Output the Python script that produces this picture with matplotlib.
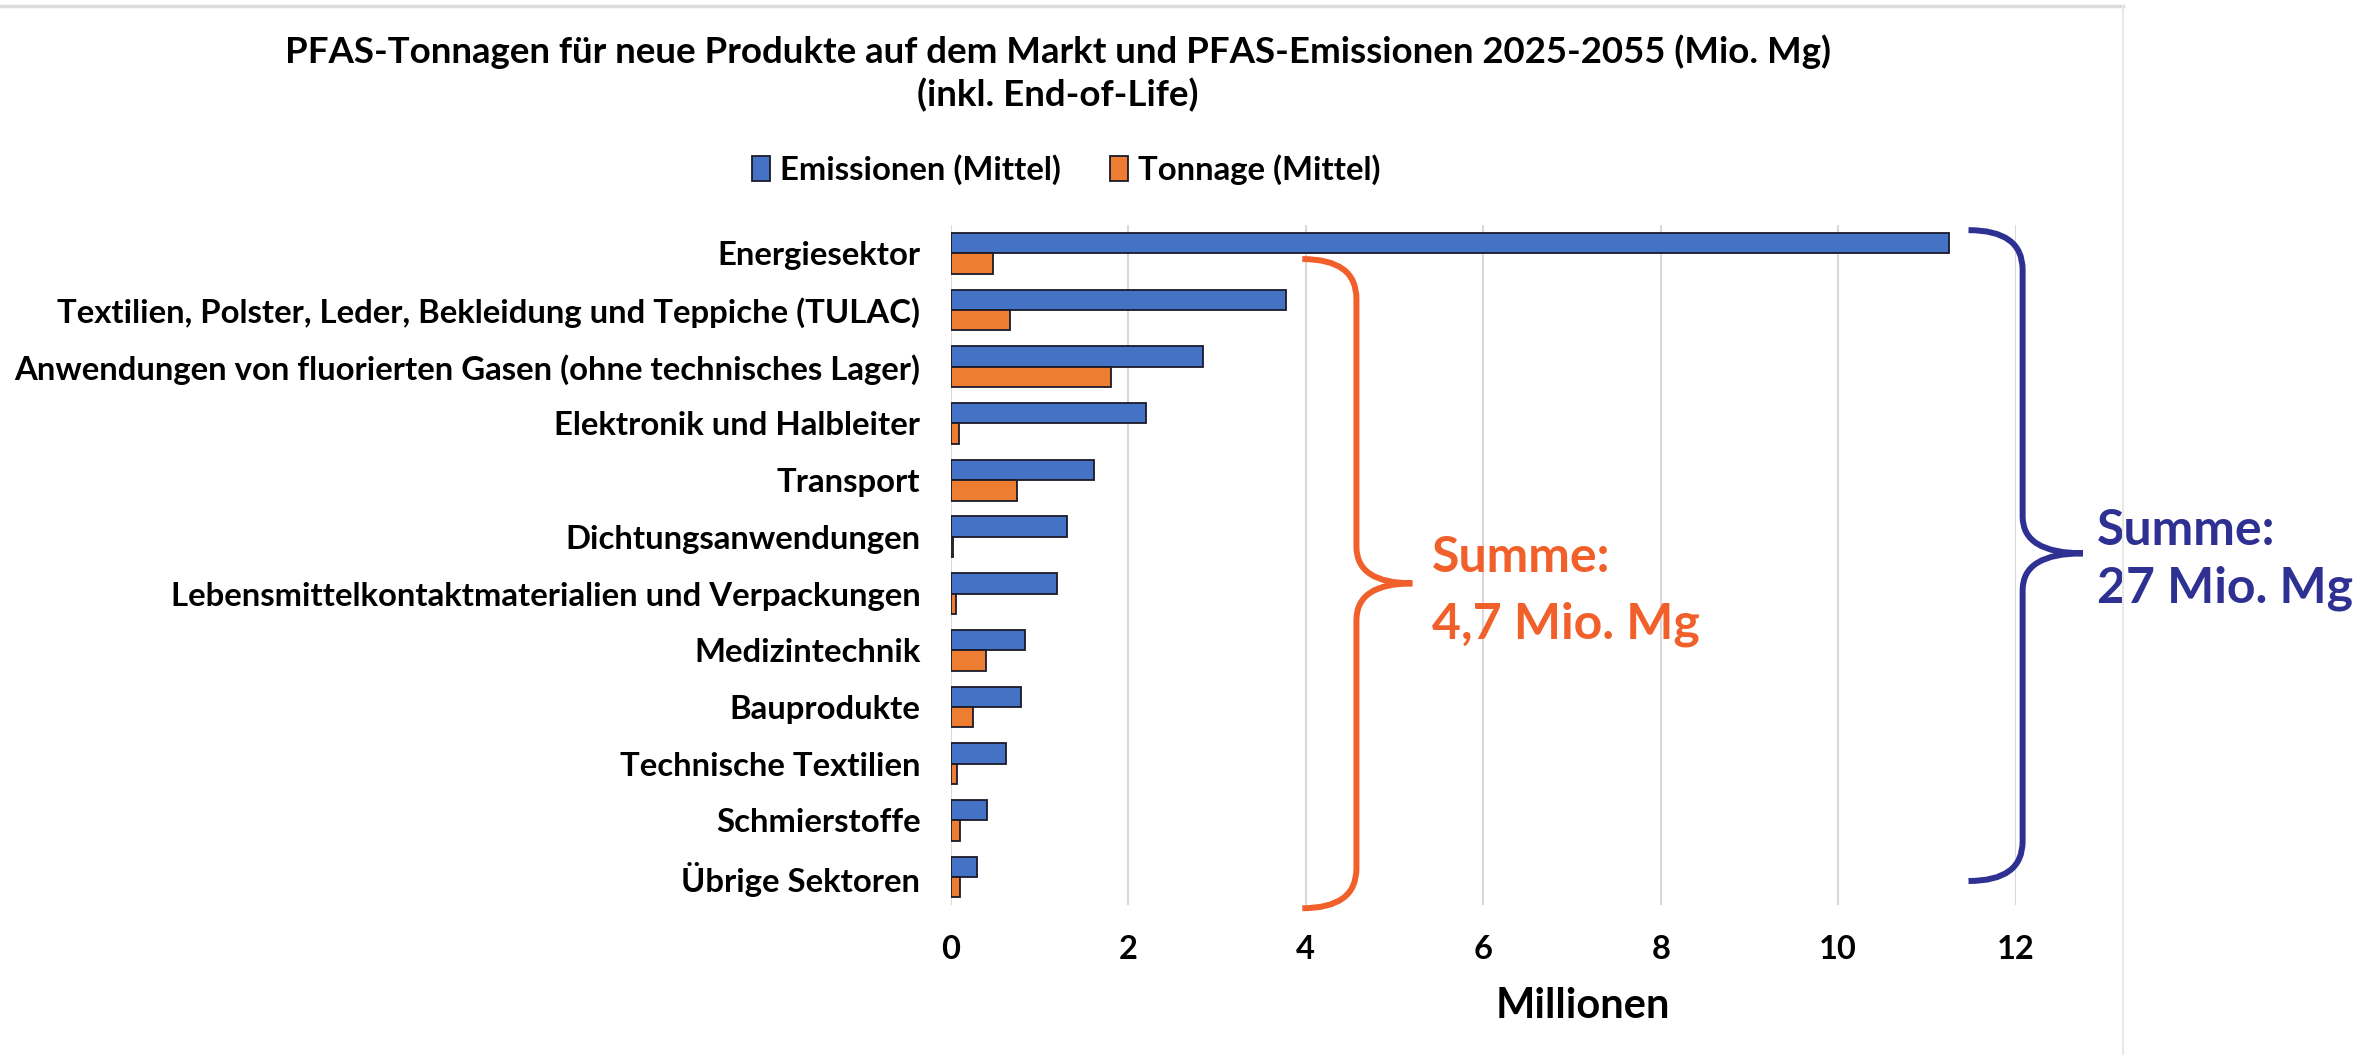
import numpy as np
import matplotlib
matplotlib.use('Agg')
import matplotlib.pyplot as plt
from matplotlib.path import Path
from matplotlib.patches import PathPatch
from matplotlib.lines import Line2D

plt.rcParams['font.family'] = ['Lato', 'DejaVu Sans']
plt.rcParams['font.weight'] = 'bold'

# data (Mio. Mg)
sektoren = ['Energiesektor',
            'Textilien, Polster, Leder, Bekleidung und Teppiche (TULAC)',
            'Anwendungen von fluorierten Gasen (ohne technisches Lager)',
            'Elektronik und Halbleiter',
            'Transport',
            'Dichtungsanwendungen',
            'Lebensmittelkontaktmaterialien und Verpackungen',
            'Medizintechnik',
            'Bauprodukte',
            'Technische Textilien',
            'Schmierstoffe',
            'Übrige Sektoren']
emissionen = [11.25, 3.78, 2.84, 2.20, 1.61, 1.31, 1.20, 0.83, 0.79, 0.62, 0.40, 0.29]
tonnage = [0.47, 0.66, 1.80, 0.09, 0.74, 0.02, 0.06, 0.39, 0.25, 0.07, 0.10, 0.10]
x_ticks = [0, 2, 4, 6, 8, 10, 12]

BLUE = '#4472c4'
ORANGE = '#ed7d31'
EDGE = '#1a1a2a'
C_ORANGE = '#f1602a'
C_BLUE = '#2e3192'

fig = plt.figure(figsize=(23.74, 10.55), dpi=100)
ax = fig.add_axes([0.4006, 0.1418, 0.8490 - 0.4006, 0.7867 - 0.1418])

y = np.arange(len(sektoren))
h = 0.36
ax.barh(y - h / 2, emissionen, height=h, color=BLUE, edgecolor=EDGE, linewidth=1.3,
        label='Emissionen (Mittel)', zorder=3)
ax.barh(y + h / 2, tonnage, height=h, color=ORANGE, edgecolor=EDGE, linewidth=1.3,
        label='Tonnage (Mittel)', zorder=3)

ax.set_ylim(len(sektoren) - 0.5, -0.5)
ax.set_xlim(0, 12)
ax.set_yticks(y)
ax.set_yticklabels(sektoren, fontsize=23.7, fontweight='bold')
ax.set_xticks(x_ticks)
ax.set_xticklabels([str(t) for t in x_ticks], fontsize=23.5, fontweight='bold')
ax.tick_params(axis='y', length=0, pad=22)
ax.tick_params(axis='x', length=0, pad=21)
ax.set_xlabel('Millionen', fontsize=30, fontweight='bold')
ax.xaxis.set_label_coords(0.594, -0.12)
ax.grid(axis='x', color='#d9d9d9', linewidth=1.5, zorder=0)
for s in ax.spines.values():
    s.set_visible(False)

fig.text(0.4457, 0.951, 'PFAS-Tonnagen für neue Produkte auf dem Markt und PFAS-Emissionen 2025-2055 (Mio. Mg)',
         ha='center', va='center', fontsize=26.4, fontweight='bold')
fig.text(0.4457, 0.9096, '(inkl. End-of-Life)', ha='center', va='center', fontsize=26.4, fontweight='bold')

fig.legend(loc='center', bbox_to_anchor=(0.449, 0.839), ncol=2, frameon=False,
           handlelength=0.55, handleheight=0.8, handletextpad=0.3,
           columnspacing=1.5, prop={'weight': 'bold', 'size': 23.7})


def brace(x_tip, x_spine, x_point, y_top, y_mid, y_bot, r_end, r_mid, color):
    verts = [(x_tip, y_top), (x_spine, y_top), (x_spine, y_top + r_end),
             (x_spine, y_mid - r_mid),
             (x_spine, y_mid), (x_point, y_mid),
             (x_spine, y_mid), (x_spine, y_mid + r_mid),
             (x_spine, y_bot - r_end),
             (x_spine, y_bot), (x_tip, y_bot)]
    codes = [Path.MOVETO, Path.CURVE3, Path.CURVE3, Path.LINETO,
             Path.CURVE3, Path.CURVE3, Path.CURVE3, Path.CURVE3,
             Path.LINETO, Path.CURVE3, Path.CURVE3]
    ax.add_patch(PathPatch(Path(verts, codes), facecolor='none', edgecolor=color,
                           linewidth=4.3, capstyle='butt', clip_on=False, zorder=5))


# Klammer: alle Sektoren ausser Energie (Tonnage) und alle Sektoren (Emissionen)
brace(3.96, 4.57, 5.2, 0.1, 5.82, 11.55, 0.7, 0.65, C_ORANGE)
brace(11.47, 12.08, 12.76, -0.41, 5.29, 11.07, 0.7, 0.65, C_BLUE)

ax.text(5.42, 5.36, 'Summe:', color=C_ORANGE, fontsize=36, fontweight='bold',
        ha='left', va='center', clip_on=False)
ax.text(5.42, 6.54, '4,7 Mio. Mg', color=C_ORANGE, fontsize=36, fontweight='bold',
        ha='left', va='center', clip_on=False)
ax.text(12.92, 4.88, 'Summe:', color=C_BLUE, fontsize=36, fontweight='bold',
        ha='left', va='center', clip_on=False)
ax.text(12.92, 5.9, '27 Mio. Mg', color=C_BLUE, fontsize=36, fontweight='bold',
        ha='left', va='center', clip_on=False)

# light frame of the chart area
fig.add_artist(Line2D([0, 0.8943], [0.9945, 0.9945], color='#dcdcdc', linewidth=2.5))
fig.add_artist(Line2D([0.8943, 0.8943], [0, 0.9945], color='#e8e8e8', linewidth=1.5))

fig.savefig('out.png', dpi=100, facecolor='white')
